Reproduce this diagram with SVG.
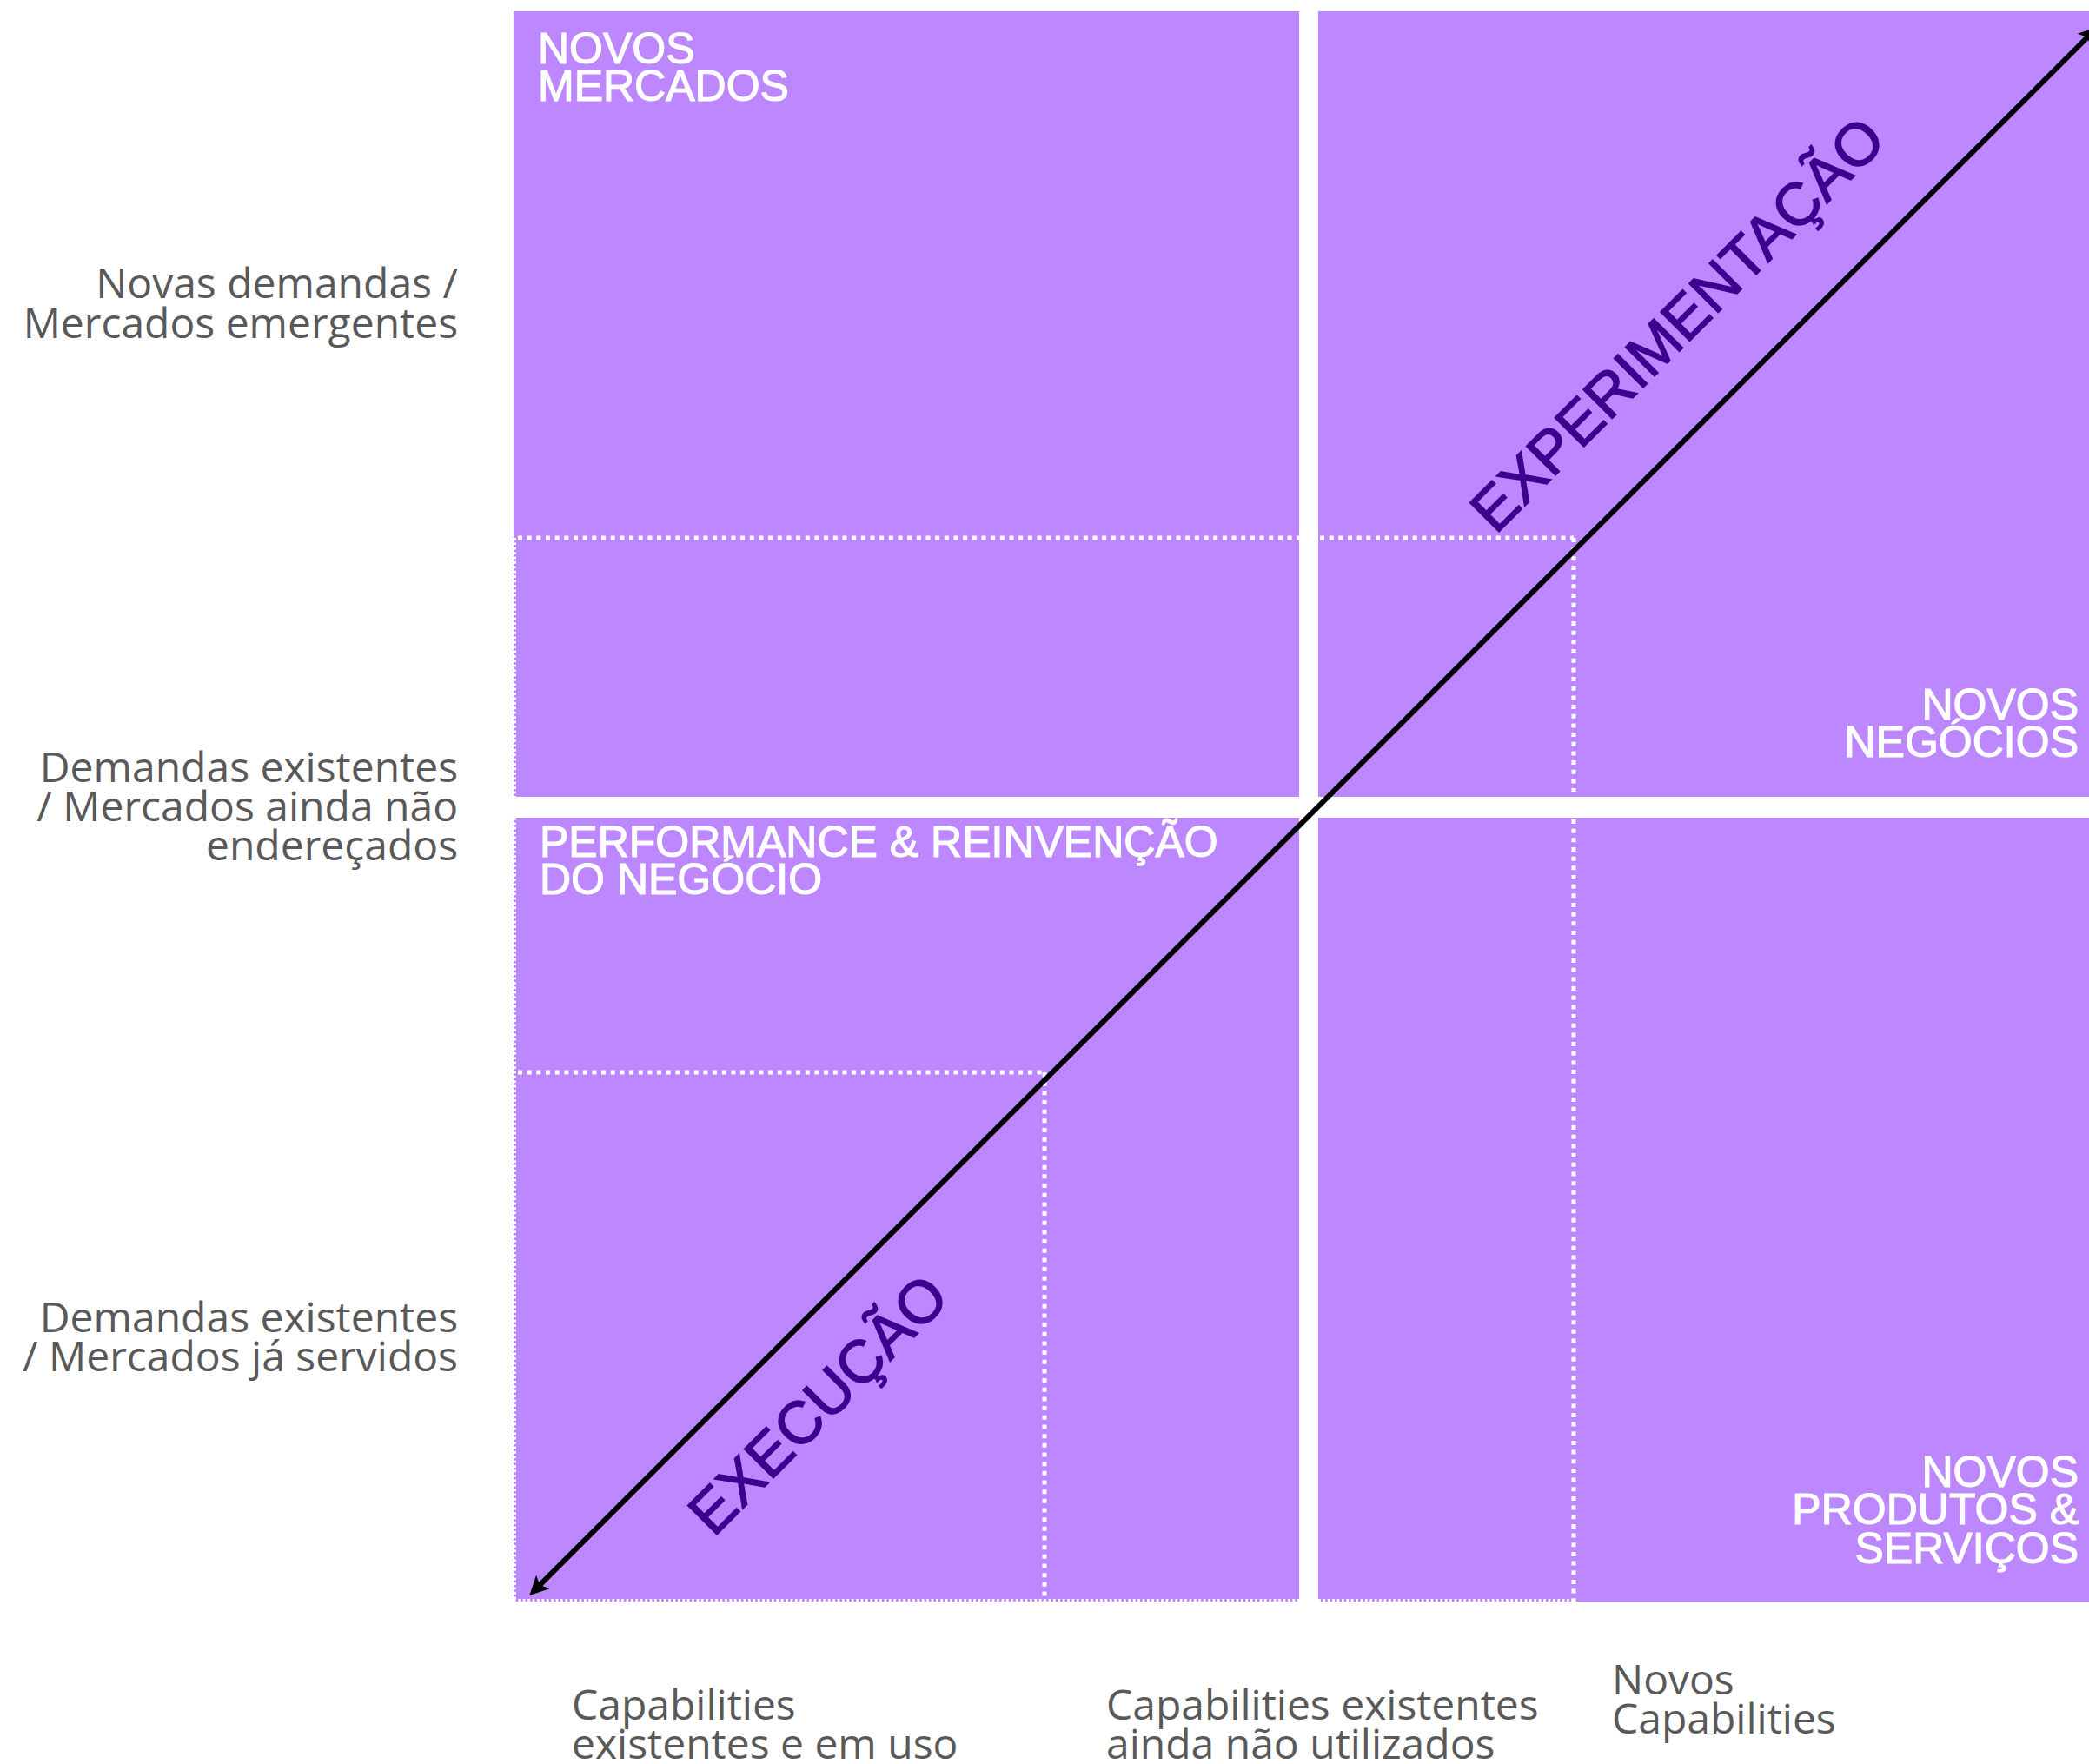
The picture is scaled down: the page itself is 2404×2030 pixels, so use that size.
<svg xmlns="http://www.w3.org/2000/svg" width="2404" height="2030" viewBox="0 0 2404 2030">
<style>
.quad{fill:#BC87FF}
.dot{stroke:#FFFFFF;stroke-width:5;stroke-dasharray:5 5.67;fill:none}
.edge{stroke:#FFFFFF;stroke-width:3;stroke-dasharray:2.7 2.7;fill:none}
.axis{font-family:"Open Sans","Liberation Sans",sans-serif;font-size:48px;fill:#595959}
.axr{text-anchor:end}
.q{font-family:"Liberation Sans",Arial,sans-serif;font-size:50px;fill:#FFFFFF;stroke:#FFFFFF;stroke-width:1.2}
.qr{text-anchor:end}
.diag{font-family:"Liberation Sans",Arial,sans-serif;font-size:69px;fill:#3D008F;stroke:#3D008F;stroke-width:1.5}
.arrow{stroke:#000000;stroke-width:6;fill:none}
</style>
<defs>
<marker id="head" markerUnits="userSpaceOnUse" markerWidth="22" markerHeight="22" viewBox="0 0 22 22" refX="6" refY="11" orient="auto-start-reverse" overflow="visible">
<path d="M0,0 L22,11 L0,22 L5,11 z" fill="#000000"/>
</marker>
</defs>
<rect x="0" y="0" width="2404" height="2030" fill="#FFFFFF"/>
<g id="quadrants">
<rect id="q-top-left" class="quad" x="591" y="13" width="904" height="904"/>
<rect id="q-top-right" class="quad" x="1517" y="13" width="887" height="904"/>
<rect id="q-bottom-left" class="quad" x="591" y="941" width="904" height="902"/>
<rect id="q-bottom-right" class="quad" x="1517" y="941" width="887" height="902"/>
</g>
<g id="dotted-guides">
<path class="dot" d="M596,619 H1495 M1519,619 H1811 M1811,619 V917 M1811,943 V1843 M596,1234 H1202 M1202,1234 V1843"/>
<path class="edge" d="M592.5,619 V917 M592.5,941 V1843 M591,1841.5 H1495 M1517,1841.5 H1811"/>
</g>
<g id="axis-labels">
<text class="axis axr" x="527" y="343">Novas demandas /</text>
<text class="axis axr" x="527" y="389">Mercados emergentes</text>
<text class="axis axr" x="527" y="900">Demandas existentes</text>
<text class="axis axr" x="527" y="945">/ Mercados ainda não</text>
<text class="axis axr" x="527" y="990">endereçados</text>
<text class="axis axr" x="527" y="1533">Demandas existentes</text>
<text class="axis axr" x="527" y="1578">/ Mercados já servidos</text>
<text class="axis" x="658" y="1979">Capabilities</text>
<text class="axis" x="658" y="2024">existentes e em uso</text>
<text class="axis" x="1273" y="1979">Capabilities existentes</text>
<text class="axis" x="1273" y="2024">ainda não utilizados</text>
<text class="axis" x="1855" y="1950">Novos</text>
<text class="axis" x="1855" y="1995">Capabilities</text>
</g>
<g id="label-novos-mercados">
<text class="q" x="619" y="73">NOVOS</text>
<text class="q" x="619" y="116">MERCADOS</text>
</g>
<g id="label-performance">
<text class="q" x="621" y="986">PERFORMANCE &amp; REINVENÇÃO</text>
<text class="q" x="621" y="1029">DO NEGÓCIO</text>
</g>
<g id="label-novos-negocios">
<text class="q qr" x="2392" y="828">NOVOS</text>
<text class="q qr" x="2392" y="871">NEGÓCIOS</text>
</g>
<g id="label-novos-produtos">
<text class="q qr" x="2392" y="1711">NOVOS</text>
<text class="q qr" x="2392" y="1754">PRODUTOS &amp;</text>
<text class="q qr" x="2392" y="1799">SERVIÇOS</text>
</g>
<g id="connectors">
<path class="arrow" d="M620.6,1824.7 L2402.7,42.3" marker-start="url(#head)" marker-end="url(#head)"/>
</g>
<g id="label-experimentacao">
<text class="diag" transform="translate(1721,616) rotate(-45)">EXPERIMENTAÇÃO</text>
</g>
<g id="label-execucao">
<text class="diag" transform="translate(821,1770) rotate(-45)">EXECUÇÃO</text>
</g>
</svg>
